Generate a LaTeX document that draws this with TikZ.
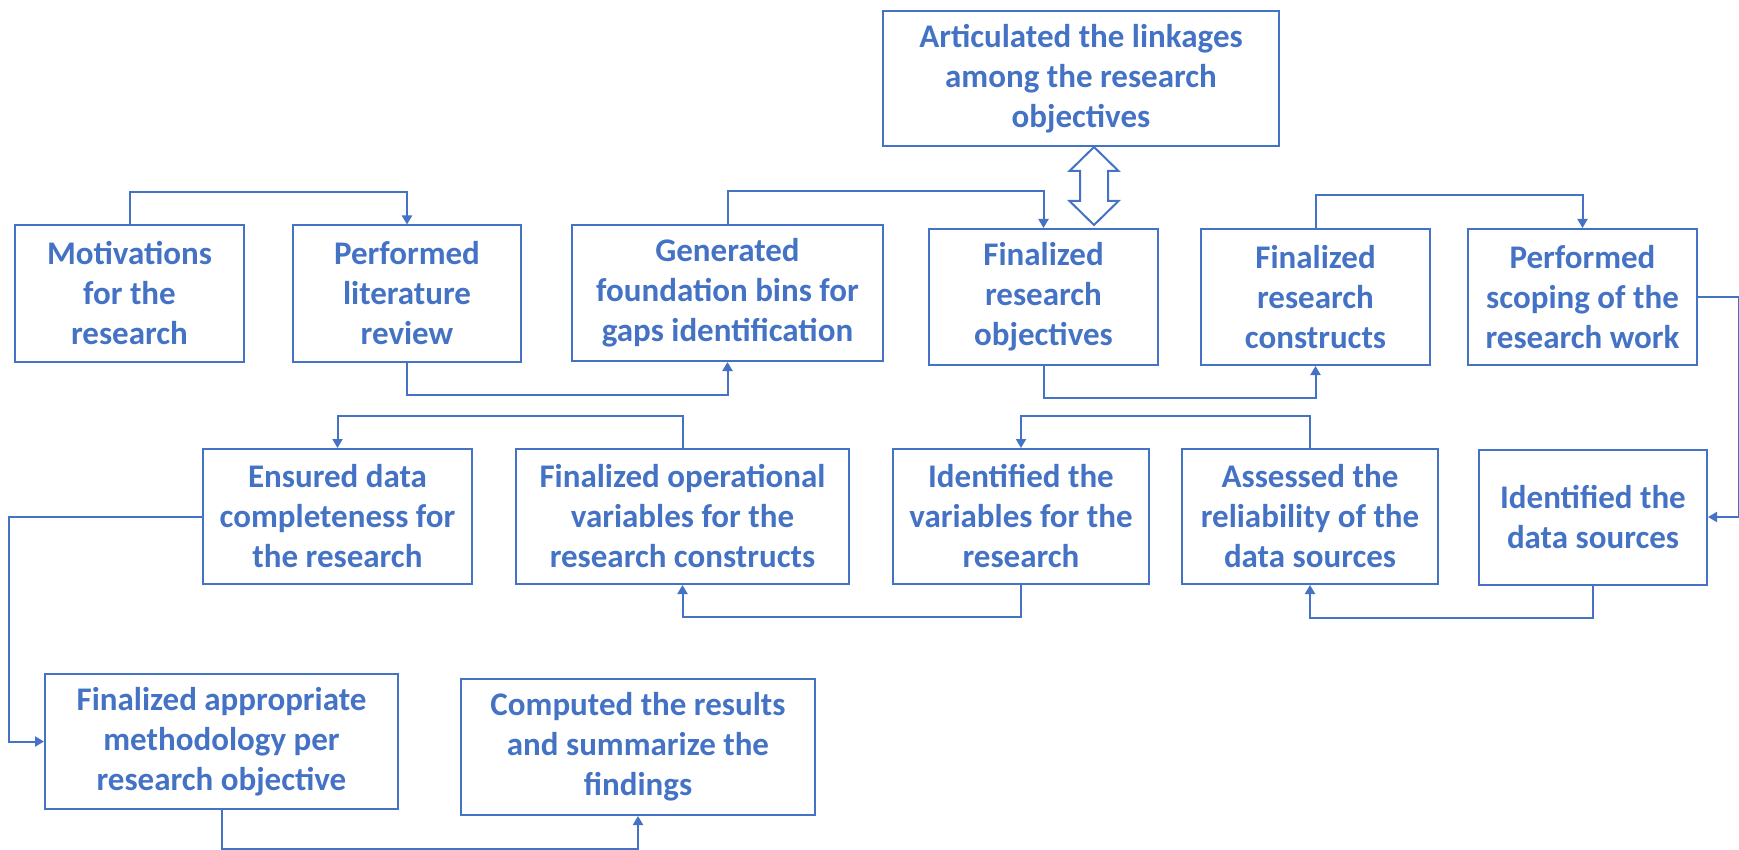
\documentclass[tikz,border=0pt]{standalone}
\usepackage{fontspec}
\setmainfont{Carlito}
\usetikzlibrary{arrows.meta}
\definecolor{flowblue}{HTML}{4472C4}
\begin{document}
\begin{tikzpicture}[x=1pt,y=-1pt,
  stagebox/.style={draw=flowblue, line width=2pt, rectangle, inner sep=0pt,
    align=center, text=flowblue, font=\fontsize{33}{40}\selectfont\bfseries,
    minimum height=136pt},
  link/.style={draw=flowblue, line width=2pt, -{Triangle[length=9pt,width=10pt]}},
]
\useasboundingbox (0,0) rectangle (1739,850);

% top row
\node[stagebox, minimum width=229pt] (mot)   at (129.5,293.5) {Motivations\\for the\\research};
\node[stagebox, minimum width=228pt] (lit)   at (407,293.5)   {Performed\\literature\\review};
\node[stagebox, minimum width=311pt] (gen)   at (727.5,293)   {Generated\\foundation bins for\\gaps identification};
\node[stagebox, minimum width=229pt] (fobj)  at (1043.5,297)  {Finalized\\research\\objectives};
\node[stagebox, minimum width=229pt] (fcon)  at (1315.5,297)  {Finalized\\research\\constructs};
\node[stagebox, minimum width=229pt] (scope) at (1582.5,297)  {Performed\\scoping of the\\research work};
\node[stagebox, minimum width=396pt, minimum height=135pt] (art) at (1081,78.5)
  {Articulated the linkages\\among the research\\objectives};

% middle row
\node[stagebox, minimum width=269pt, minimum height=135pt] (ens)  at (337.5,516.5) {Ensured data\\completeness for\\the research};
\node[stagebox, minimum width=333pt, minimum height=135pt] (oper) at (682.5,516.5) {Finalized operational\\variables for the\\research constructs};
\node[stagebox, minimum width=256pt, minimum height=135pt] (ivar) at (1021,516.5)  {Identified the\\variables for the\\research};
\node[stagebox, minimum width=256pt, minimum height=135pt] (rel)  at (1310,516.5)  {Assessed the\\reliability of the\\data sources};
\node[stagebox, minimum width=228pt, minimum height=135pt] (dsrc) at (1593,517)    {Identified the\\data sources};

% bottom row
\node[stagebox, minimum width=353pt, minimum height=135pt] (meth) at (221.5,741.5) {Finalized appropriate\\methodology per\\research objective};
\node[stagebox, minimum width=354pt] (comp) at (638,747) {Computed the results\\and summarize the\\findings};

% hollow two-way arrow between the linkages box and the objectives
\draw[flowblue, line width=2pt, line join=miter, fill=white]
  (1094,147) -- (1118.5,171) -- (1108,171) -- (1108,201) -- (1118.5,201)
  -- (1094,225) -- (1069.5,201) -- (1080,201) -- (1080,171) -- (1069.5,171) -- cycle;

% process flow
\draw[link] (mot.north)   -- ++(0,-32) -| (lit.north);
\draw[link] (lit.south)   -- ++(0,32)  -| (gen.south);
\draw[link] (gen.north)   -- ++(0,-33) -| (fobj.north);
\draw[link] (fobj.south)  -- ++(0,32)  -| (fcon.south);
\draw[link] (fcon.north)  -- ++(0,-33) -| (scope.north);
\draw[link] (scope.east)  -- ++(41,0)  |- (dsrc.east);
\draw[link] (dsrc.south)  -- ++(0,32)  -| (rel.south);
\draw[link] (rel.north)   -- ++(0,-32) -| (ivar.north);
\draw[link] (ivar.south)  -- ++(0,32)  -| (oper.south);
\draw[link] (oper.north)  -- ++(0,-32) -| (ens.north);
\draw[link] (ens.west)    -- ++(-193,0) |- (meth.west);
\draw[link] (meth.south)  -- ++(0,39)  -| (comp.south);
\end{tikzpicture}
\end{document}
